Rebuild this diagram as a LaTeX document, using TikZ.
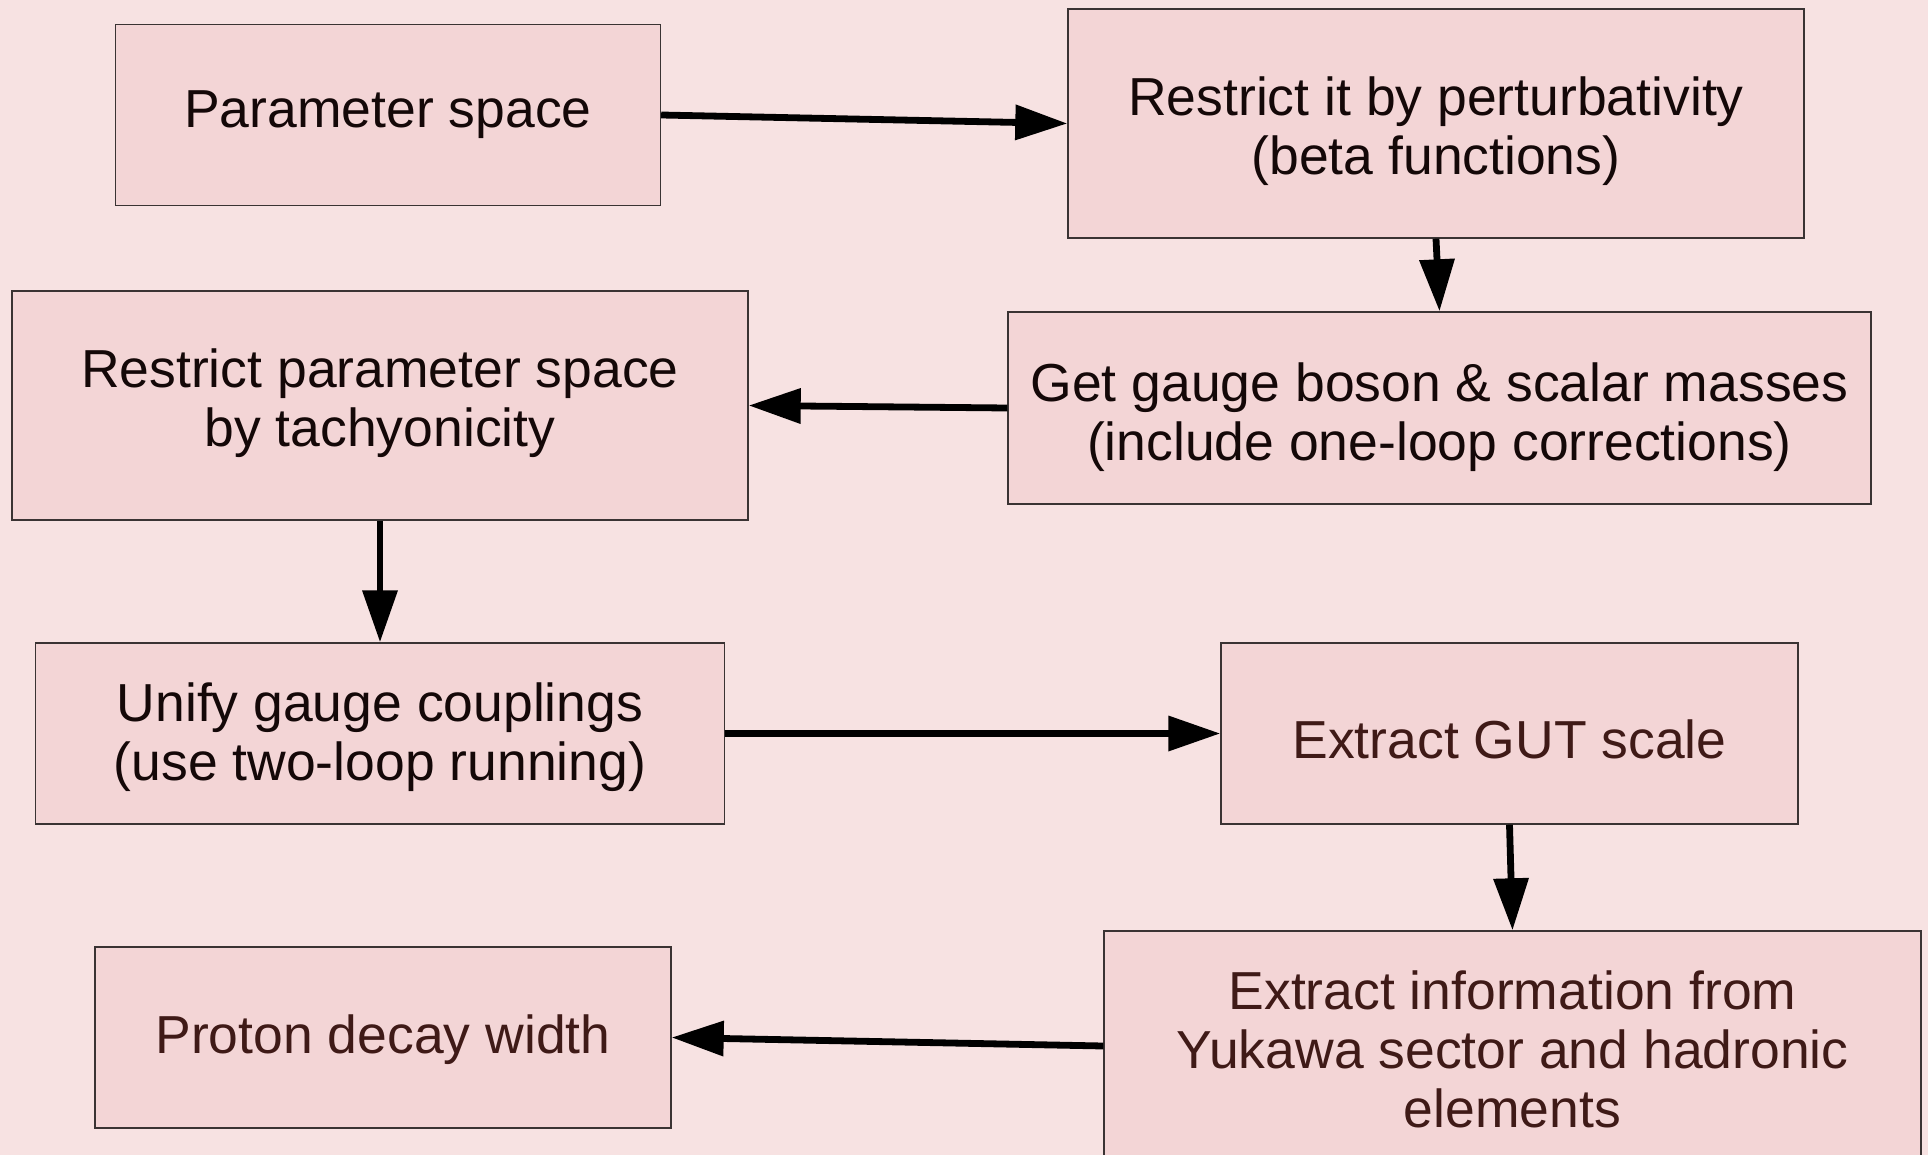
\documentclass[tikz,border=0pt]{standalone}
\usepackage{fontspec}
\setmainfont{Liberation Sans}
\usepackage{xcolor}
\usetikzlibrary{arrows.meta, positioning}
\definecolor{bgpink}{HTML}{F7E2E2}
\definecolor{boxpink}{HTML}{F3D5D6}
\definecolor{edgegray}{HTML}{3A3333}
\definecolor{inkblack}{HTML}{140808}
\definecolor{darkbrown}{HTML}{3F1A17}
\tikzstyle{stepbox} = [rectangle, draw=edgegray, fill=boxpink, line width=0.7pt, align=center,
  text=inkblack, font=\fontsize{26.75}{29.5}\selectfont, inner sep=0pt]
\tikzstyle{brownbox} = [stepbox, text=darkbrown]
\tikzstyle{arrow} = [line width=3.4pt, -{Triangle[length=26pt, width=17pt]}]
% last baseline sits #1/2 below the box centre
\tikzset{droptext/.style={text height=#1, text depth=0pt}}

\begin{document}
\begin{tikzpicture}[x=0.5pt, y=-0.5pt]
  \path[use as bounding box, fill=bgpink] (0,0) rectangle (1928,1155);
  \clip (0,0) rectangle (1928,1155);

  % Left column
  \node (param) [stepbox, droptext=12.5pt, minimum width=272.5pt, minimum height=90.5pt] at (388,115)
    {Parameter space};
  \node (tach)  [stepbox, droptext=40.5pt, minimum width=368pt, minimum height=114.5pt] at (380,405.5)
    {Restrict parameter space\\by tachyonicity};
  \node (unify) [stepbox, droptext=47.2pt, minimum width=344.5pt, minimum height=90.5pt] at (380,733.5)
    {Unify gauge couplings\\(use two-loop running)};
  \node (proton)[brownbox, droptext=15.5pt, minimum width=288pt, minimum height=90.5pt] at (383,1037.5)
    {Proton decay width};

  % Right column
  \node (pert)  [stepbox, droptext=51pt, minimum width=368pt, minimum height=114.5pt] at (1436,123.5)
    {Restrict it by perturbativity\\(beta functions)};
  \node (gauge) [stepbox, droptext=52.7pt, minimum width=431.5pt, minimum height=96pt] at (1439.5,408)
    {Get gauge boson \& scalar masses\\(include one-loop corrections)};
  \node (gut)   [brownbox, droptext=24.8pt, minimum width=288.5pt, minimum height=90.5pt] at (1509.5,733.5)
    {Extract GUT scale};
  \node (info)  [brownbox, droptext=81pt, minimum width=408.5pt, minimum height=115pt] at (1512.5,1046)
    {Extract information from\\Yukawa sector and hadronic\\elements};

  \draw[arrow] (param.east) -- (pert.west);
  \draw[arrow] (pert.south) -- (gauge.north);
  \draw[arrow] (gauge.west) -- (tach.east);
  \draw[arrow] (tach.south) -- (unify.north);
  \draw[arrow] (unify.east) -- (gut.west);
  \draw[arrow] (gut.south) -- (info.north);
  \draw[arrow] (info.west) -- (proton.east);
\end{tikzpicture}
\end{document}
